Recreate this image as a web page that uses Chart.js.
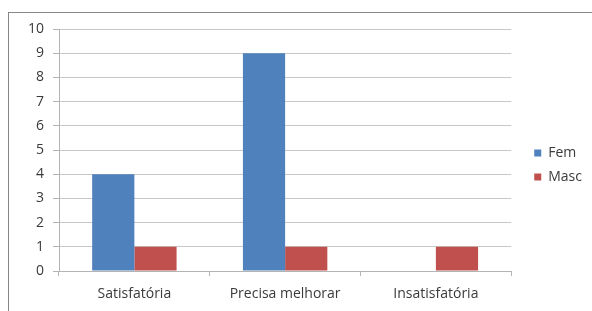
<!DOCTYPE html>
<html>
<head>
<meta charset="utf-8">
<script src="https://cdn.jsdelivr.net/npm/chart.js@4"></script>
<style>
    html, body { margin: 0; padding: 0; background: #ffffff; }
    body { width: 592px; height: 311px; position: relative; overflow: hidden; }
    .frame { position: absolute; left: 8px; top: 12px; width: 620px; height: 330px; border: 1px solid #868686; }
    #grafico { position: absolute; left: 0; top: 0; }
</style>
</head>
<body>
<div class="frame"></div>
<canvas id="grafico" width="592" height="311"></canvas>
<script>
// Dados
const categorias = ['Satisfatória', 'Precisa melhorar', 'Insatisfatória'];
const valoresFem = [4, 9, 0];
const valoresMasc = [1, 1, 1];
const ticksY = [0, 1, 2, 3, 4, 5, 6, 7, 8, 9, 10];

const cores = {
    fem: '#4f81bd',
    masc: '#c0504d',
    grade: '#c8c8c8',
    eixo: '#b4b4b4',
    texto: '#3a3a3a'
};

Chart.defaults.font.family = "'Open Sans', 'Liberation Sans', sans-serif";
Chart.defaults.font.size = 14;
Chart.defaults.color = cores.texto;

// eixos vazios, só para acertar o espaço à volta da área do gráfico
function eixoVazio(posicao, tamanho) {
    return {
        type: 'linear',
        position: posicao,
        grid: { display: false },
        border: { display: false },
        ticks: { display: false },
        afterFit: function (scale) {
            if (posicao === 'top') scale.height = tamanho;
            else scale.width = tamanho;
        }
    };
}

new Chart(document.getElementById('grafico'), {
    type: 'bar',
    data: {
        labels: categorias,
        datasets: [
            { label: 'Fem', data: valoresFem, backgroundColor: cores.fem },
            { label: 'Masc', data: valoresMasc, backgroundColor: cores.masc }
        ]
    },
    options: {
        responsive: false,
        animation: false,
        devicePixelRatio: 1,
        categoryPercentage: 0.56,
        barPercentage: 1.0,
        layout: { padding: { left: 0, top: 24, right: 0, bottom: 5 } },
        scales: {
            x: {
                grid: {
                    offset: true,
                    drawOnChartArea: false,
                    drawTicks: true,
                    tickLength: 5,
                    color: cores.eixo
                },
                border: { color: cores.eixo },
                ticks: { padding: 10, maxRotation: 0, autoSkip: false },
                afterFit: function (scale) { scale.height = 35; }
            },
            y: {
                min: ticksY[0],
                max: ticksY[ticksY.length - 1],
                grid: { color: cores.grade, tickLength: 6, tickColor: cores.eixo },
                border: { color: cores.eixo },
                ticks: { stepSize: 1, autoSkip: false, padding: 9 },
                afterFit: function (scale) { scale.width = 59; }
            },
            espacoTopo: eixoVazio('top', 5),
            espacoDireita: eixoVazio('right', 13)
        },
        plugins: {
            legend: {
                position: 'right',
                labels: {
                    boxWidth: 7,
                    boxHeight: 7,
                    padding: 10
                }
            },
            tooltip: { enabled: false }
        }
    }
});
</script>
</body>
</html>
